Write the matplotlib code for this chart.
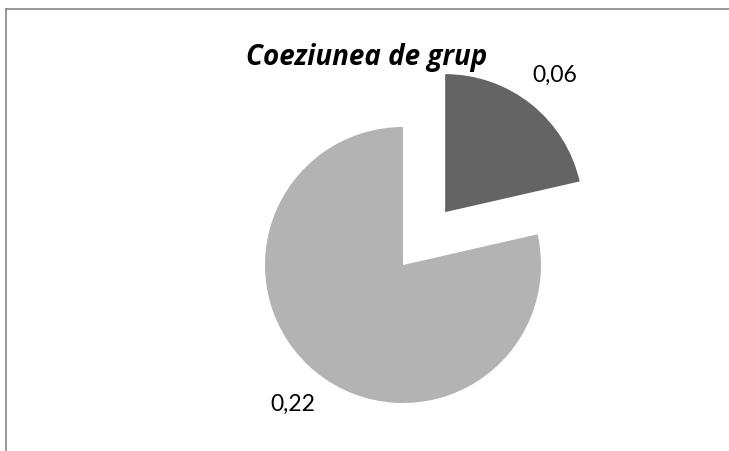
import matplotlib
matplotlib.use("Agg")
import matplotlib.pyplot as plt
from matplotlib.lines import Line2D

# data
labels = ["0,06", "0,22"]
values = [0.06, 0.22]
colors = ["#646464", "#b3b3b3"]
title = "Coeziunea de grup"

W, H = 729, 452
fig = plt.figure(figsize=(W / 100, H / 100), dpi=100)
ax = fig.add_axes([0, 0, 1, 1])

# pie in pixel space (y measured upwards); explode is in data units
cx, cy, r = 403, H - 266, 138
wedges, texts = ax.pie(values, labels=labels, colors=colors,
                       explode=[0.49 * r, 0.0],
                       startangle=90, counterclock=False, radius=r,
                       center=(cx, cy), labeldistance=1.28, frame=True,
                       textprops=dict(fontsize=16.5, family="Lato",
                                      ha="center", va="center"))
ax.set_xlim(0, W)
ax.set_ylim(0, H)
ax.set_aspect("equal")
ax.axis("off")

ax.text(367, H - 58, title, ha="center", va="center", fontsize=20,
        family="Open Sans", fontweight="bold", fontstyle="italic")

# chart-area border (top + left only visible)
bc = "#868686"
fig.add_artist(Line2D([6 / W, 1], [1 - 10 / H, 1 - 10 / H], color=bc, lw=1.2,
                      transform=fig.transFigure))
fig.add_artist(Line2D([6 / W, 6 / W], [0, 1 - 10 / H], color=bc, lw=1.2,
                      transform=fig.transFigure))

fig.savefig("out.png", dpi=100)
